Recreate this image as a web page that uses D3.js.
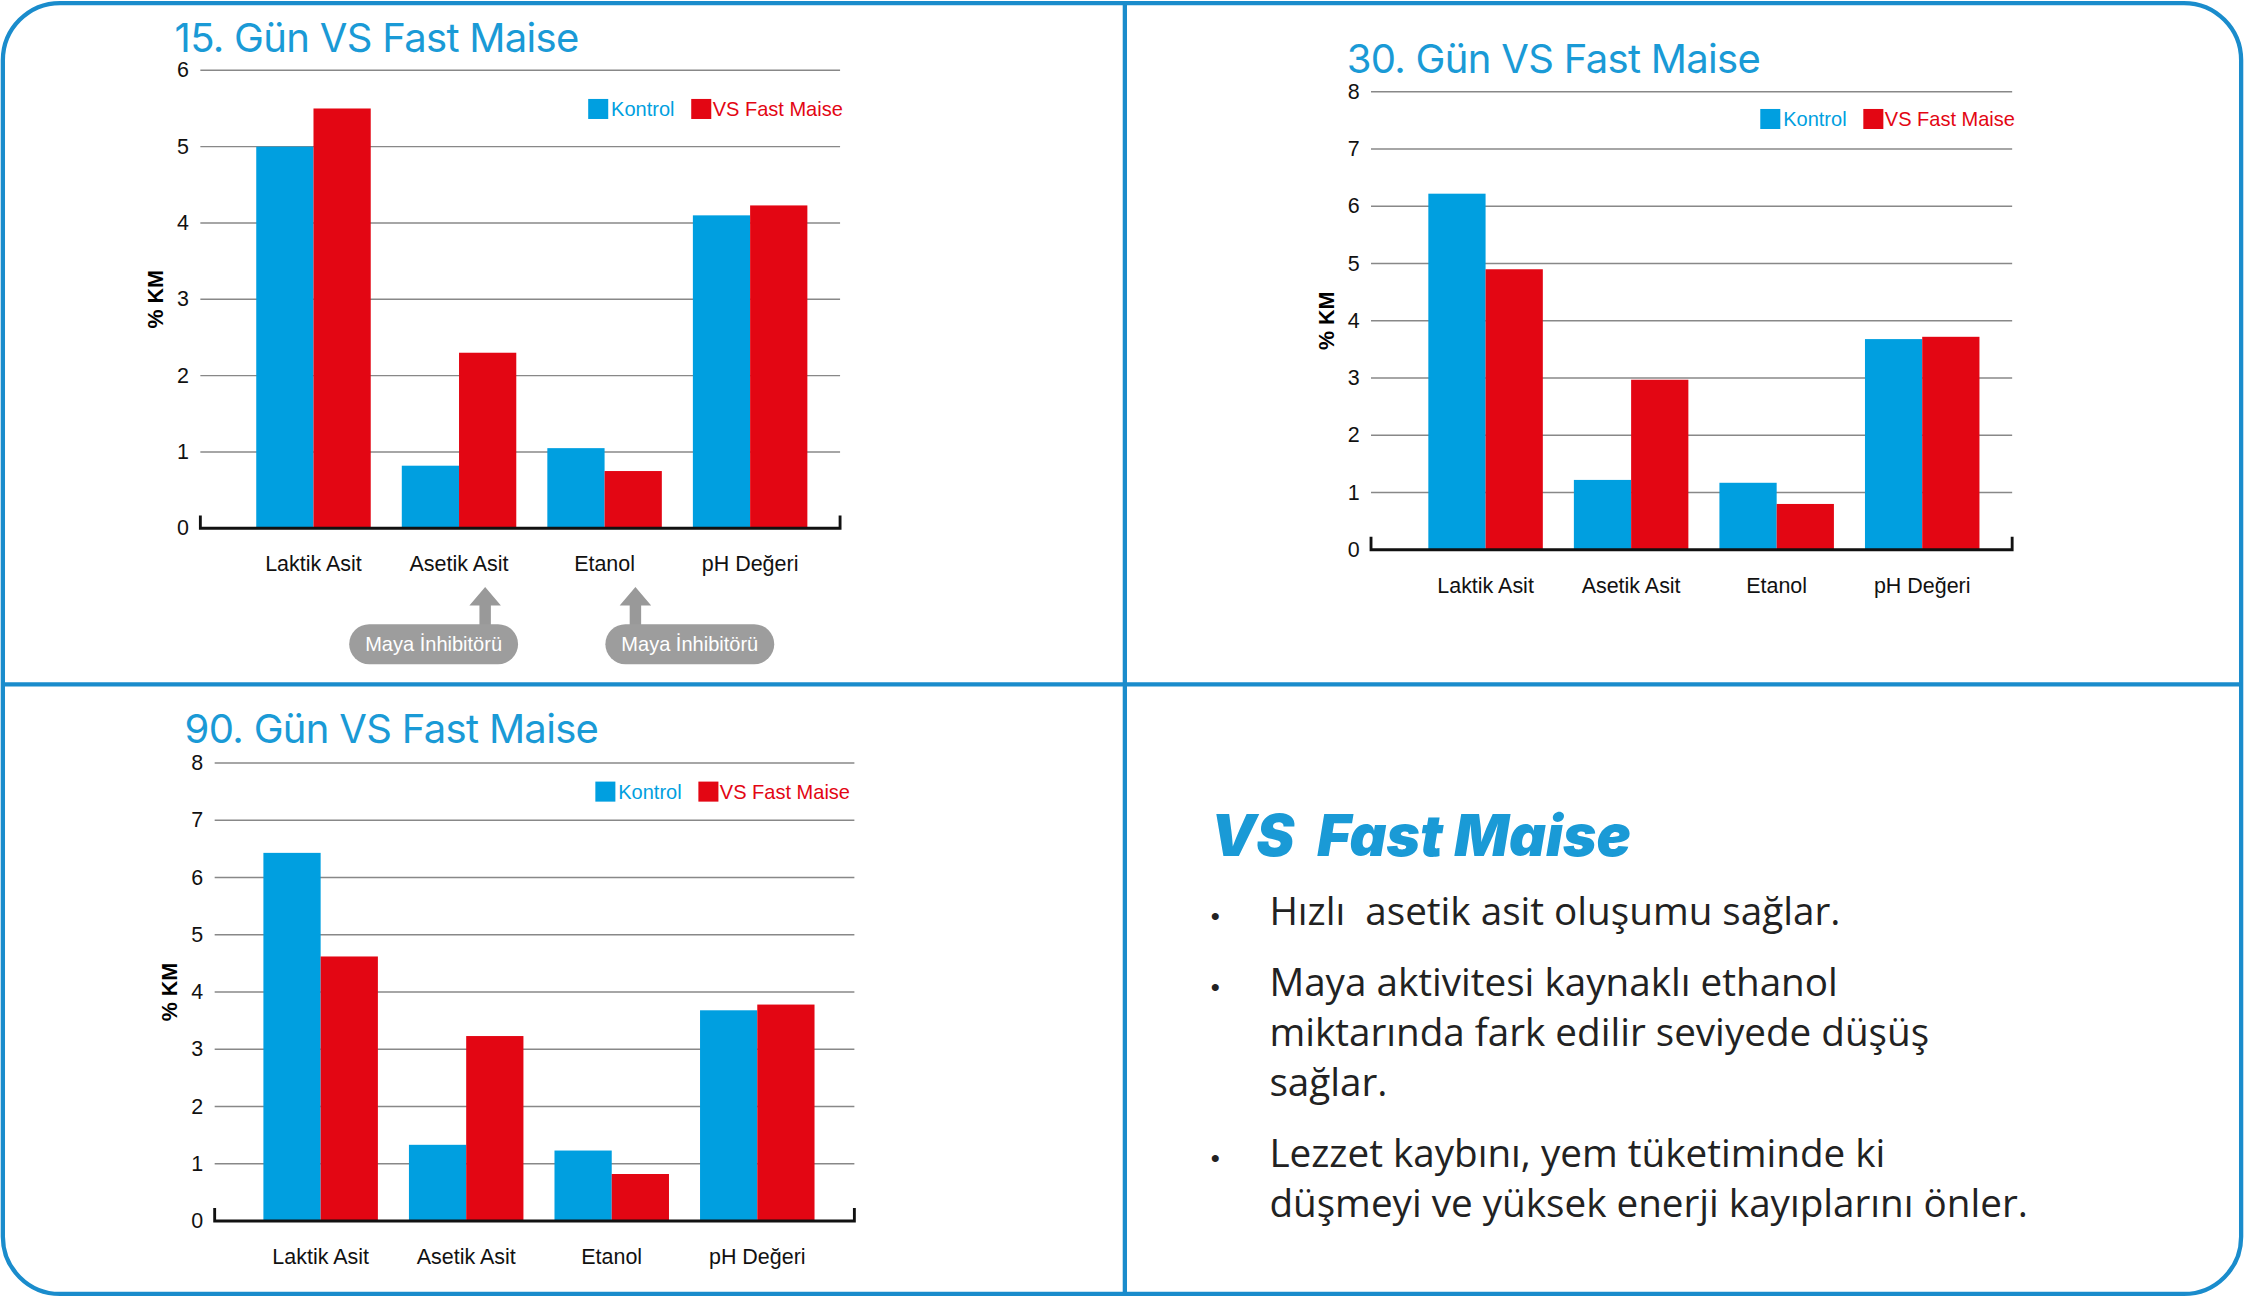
<!DOCTYPE html>
<html><head><meta charset="utf-8">
<script src="https://d3js.org/d3.v7.min.js"></script>
<style>body{margin:0;background:#fff}svg{display:block}</style>
</head><body>
<script>
const categories = ["Laktik Asit","Asetik Asit","Etanol","pH Değeri"];
const seriesNames = ["Kontrol","VS Fast Maise"];
const kontrol15 = [5.0,0.82,1.05,4.1];
const fast15 = [5.5,2.3,0.75,4.23];
const kontrol30 = [6.22,1.22,1.17,3.68];
const fast30 = [4.9,2.97,0.8,3.72];
const kontrol90 = [6.43,1.33,1.23,3.68];
const fast90 = [4.62,3.23,0.82,3.78];
const ticks15 = [0,1,2,3,4,5,6];
const ticks8 = [0,1,2,3,4,5,6,7,8];
const bullets = [
 ["Hızlı  asetik asit oluşumu sağlar."],
 ["Maya aktivitesi kaynaklı ethanol","miktarında fark edilir seviyede düşüş","sağlar."],
 ["Lezzet kaybını, yem tüketiminde ki","düşmeyi ve yüksek enerji kayıplarını önler."]
];
const BLUE="#009fe0", RED="#e30613", TITLE="#1a9ad6";
const svg=d3.select("body").append("svg").attr("width",2244).attr("height",1297).attr("viewBox","0 0 1568 906");
svg.append("rect").attr("x",2).attr("y",2).attr("width",1564).attr("height",902).attr("rx",40).attr("fill","none").attr("stroke","#1a8ccc").attr("stroke-width",3);
svg.append("line").attr("x1",786).attr("x2",786).attr("y1",2).attr("y2",904).attr("stroke","#1a8ccc").attr("stroke-width",3);
svg.append("line").attr("x1",2).attr("x2",1566).attr("y1",478).attr("y2",478).attr("stroke","#1a8ccc").attr("stroke-width",3);

function chart(o){
 const g=svg.append("g");
 const y=d3.scaleLinear().domain([0,o.max]).range([o.y0,o.y1]);
 const x=d3.scaleBand().domain(categories).range([o.xs,o.xs+4*101.7]);
 const x1=d3.scaleBand().domain(seriesNames).range([0,80]);
 g.selectAll(".grid").data(o.ticks.slice(1)).join("line").attr("x1",o.ax0).attr("x2",o.ax1)
  .attr("y1",d=>y(d)).attr("y2",d=>y(d)).attr("stroke","#888").attr("stroke-width",1);
 g.selectAll(".tl").data(o.ticks).join("text").attr("x",o.ax0-8).attr("y",d=>y(d)+5).attr("text-anchor","end")
  .attr("font-family","Liberation Sans Narrow, Liberation Sans, sans-serif").attr("font-size",15).attr("fill","#111").text(d=>d);
 const data=[o.k,o.f];
 categories.forEach((c,i)=>{
  seriesNames.forEach((s,j)=>{
   const v=data[j][i];
   g.append("rect").attr("x",x(c)+x.bandwidth()/2-40+x1(s)).attr("width",x1.bandwidth())
    .attr("y",y(v)).attr("height",y(0)-y(v)).attr("fill",j?RED:BLUE);
  });
  g.append("text").attr("x",x(c)+x.bandwidth()/2).attr("y",o.y0+30).attr("text-anchor","middle")
   .attr("font-family","Liberation Sans, sans-serif").attr("font-size",15).attr("fill","#111").text(c);
 });
 g.append("path").attr("d",`M${o.ax0},${o.y0-9}V${o.y0}H${o.ax1}V${o.y0-9}`).attr("fill","none").attr("stroke","#111").attr("stroke-width",2);
 g.append("text").attr("transform",`translate(${o.ax0-26},${(o.y0+o.y1)/2}) rotate(-90)`).attr("text-anchor","middle")
  .attr("font-family","Liberation Sans, sans-serif").attr("font-weight","bold").attr("font-size",15).text("% KM");
 g.append("text").attr("x",o.tx).attr("y",o.ty).attr("font-family","Inter, sans-serif").attr("font-size",28).attr("letter-spacing",-0.5).attr("fill",TITLE).text(o.title);
 const lx=o.lx, ly=o.ly;
 g.append("rect").attr("x",lx).attr("y",ly).attr("width",14).attr("height",14).attr("fill",BLUE);
 g.append("text").attr("x",lx+16).attr("y",ly+12).attr("font-family","Liberation Sans, sans-serif").attr("font-size",14).attr("fill",BLUE).text(seriesNames[0]);
 g.append("rect").attr("x",lx+72).attr("y",ly).attr("width",14).attr("height",14).attr("fill",RED);
 g.append("text").attr("x",lx+87).attr("y",ly+12).attr("font-family","Liberation Sans, sans-serif").attr("font-size",14).attr("fill",RED).text(seriesNames[1]);
 return {x,y};
}
const c1=chart({max:6,ticks:ticks15,y0:369,y1:49,ax0:140,ax1:587,xs:168.2,k:kontrol15,f:fast15,title:"15. Gün VS Fast Maise",tx:122,ty:36,lx:411,ly:69});
chart({max:8,ticks:ticks8,y0:384,y1:64,ax0:958,ax1:1406,xs:987.2,k:kontrol30,f:fast30,title:"30. Gün VS Fast Maise",tx:941,ty:51,lx:1230,ly:76});
chart({max:8,ticks:ticks8,y0:853,y1:533,ax0:150,ax1:597,xs:173.2,k:kontrol90,f:fast90,title:"90. Gün VS Fast Maise",tx:129,ty:519,lx:416,ly:546});

// Maya İnhibitörü annotations
[[ "Asetik Asit",244,339],["Etanol",423,444]].forEach(([c,px,ax])=>{
 svg.append("path").attr("d",`M${ax},410 L${ax-11},423 H${ax-4} V437 H${ax+4} V423 H${ax+11} Z`).attr("fill","#999");
 svg.append("rect").attr("x",px).attr("y",436).attr("width",118).attr("height",28).attr("rx",14).attr("fill","#9d9d9d");
 svg.append("text").attr("x",px+59).attr("y",455).attr("text-anchor","middle").attr("font-family","Liberation Sans Narrow, Liberation Sans, sans-serif").attr("font-size",14).attr("fill","#fff").text("Maya İnhibitörü");
});

svg.append("text").attr("x",846).attr("y",598).attr("font-family","Inter, sans-serif").attr("font-weight",900).attr("font-style","italic").attr("font-size",40).attr("fill",TITLE).attr("xml:space","preserve").text("VS  Fast Maise");
let by=[646,696,815];
bullets.forEach((b,i)=>{
 svg.append("text").attr("x",846).attr("y",by[i]).attr("font-family","Liberation Sans, sans-serif").attr("font-size",18).attr("fill","#222").text("•");
 b.forEach((l,k)=>svg.append("text").attr("x",887).attr("y",by[i]+k*35).attr("font-family","Open Sans, sans-serif").attr("font-size",27).attr("fill","#222").attr("xml:space","preserve").text(l));
});
</script>
</body></html>
